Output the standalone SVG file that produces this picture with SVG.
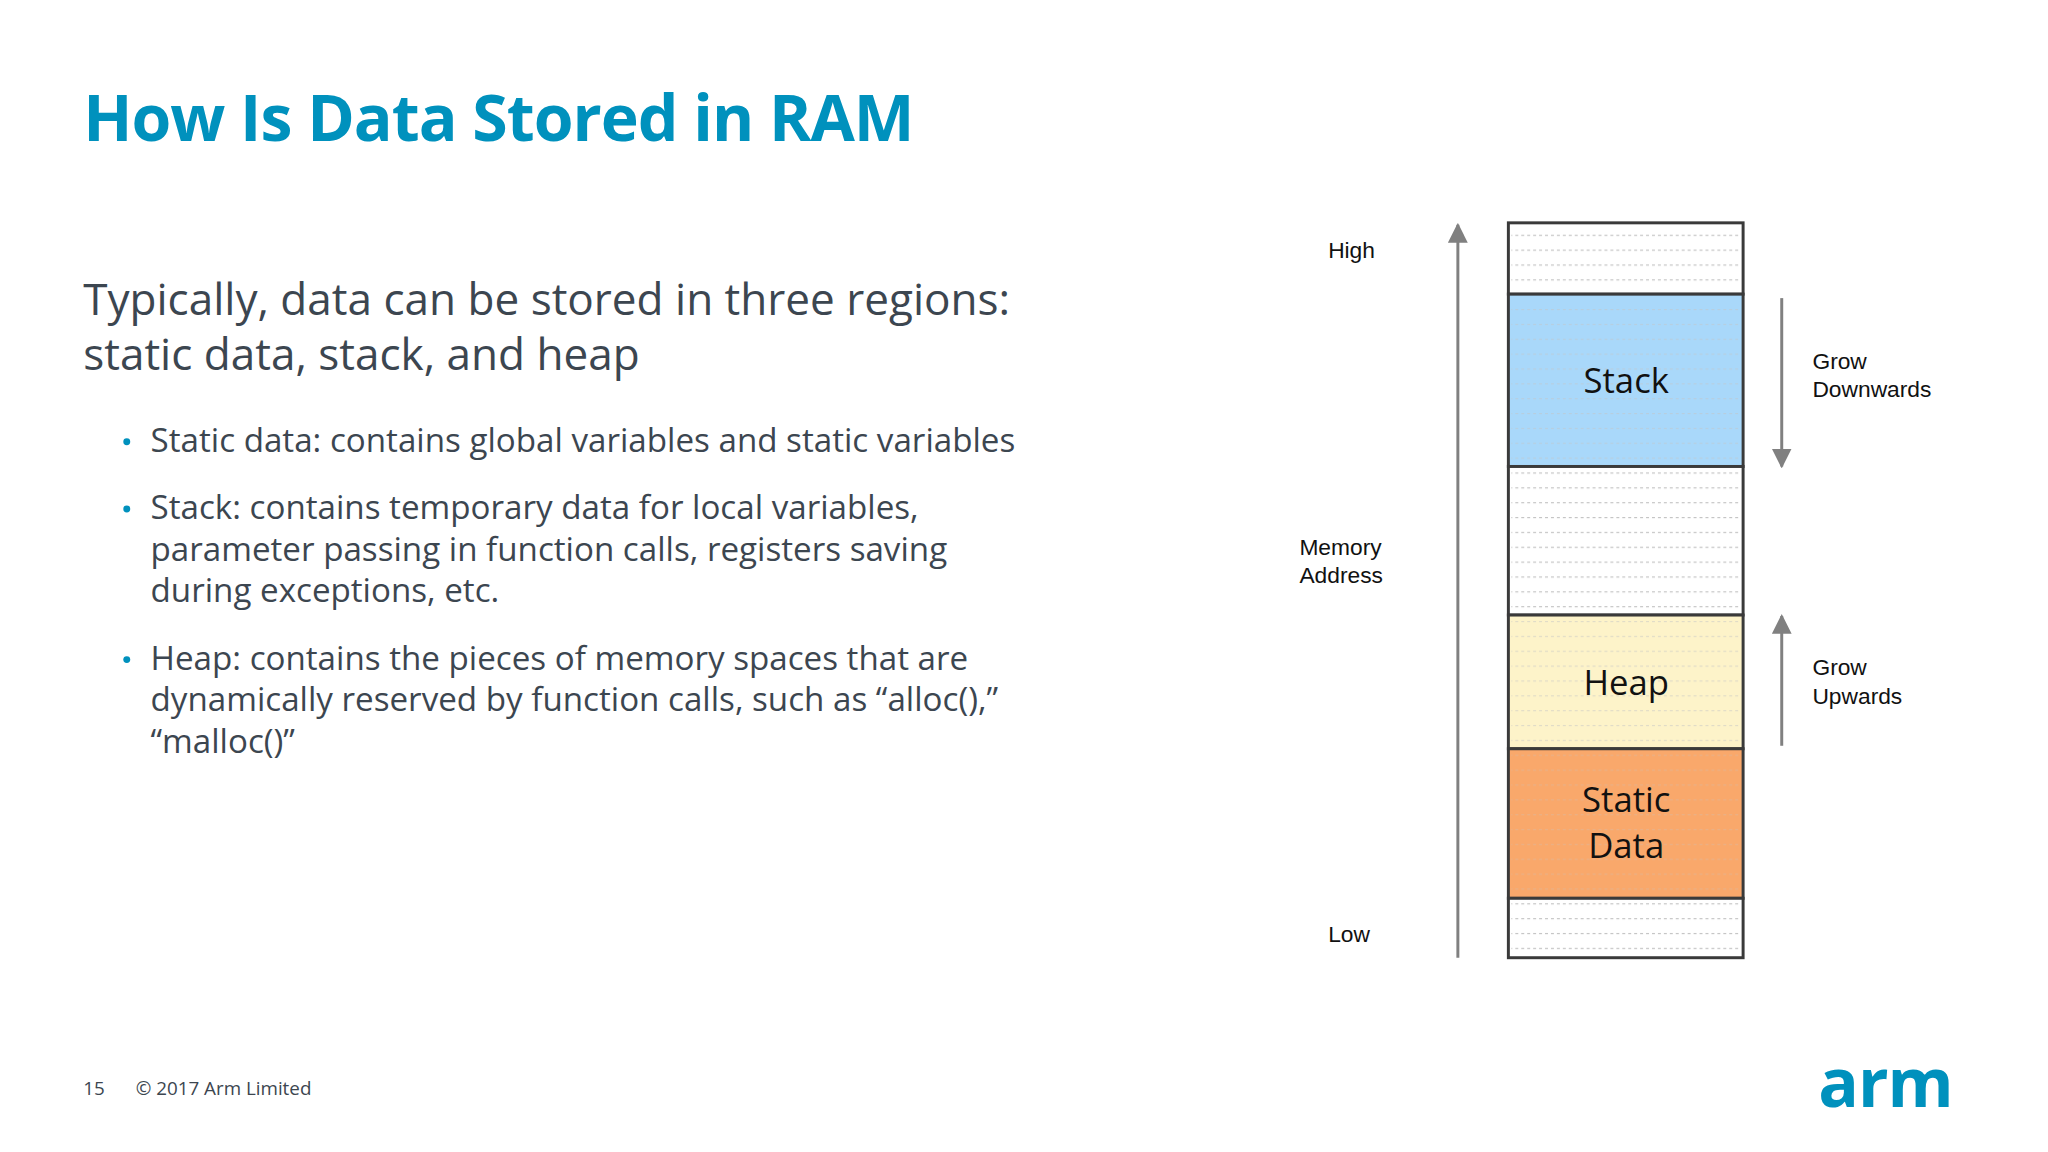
<svg xmlns="http://www.w3.org/2000/svg" width="2048" height="1152" viewBox="0 0 2048 1152">
<defs>
<style>
.t{font-family:"Open Sans","Noto Sans",sans-serif;fill:#3c4650}
.l{font-family:"Liberation Sans",Arial,sans-serif;font-size:23px;fill:#111}
.blk{font-family:"Open Sans","Noto Sans",sans-serif;font-size:35px;fill:#111;text-anchor:middle}
.box{stroke:#3a3a3a;stroke-width:3}
.arr{stroke:#808080;stroke-width:3;fill:none}
</style>
<pattern id="dots" x="0" y="0" width="6" height="15" patternUnits="userSpaceOnUse">
<rect x="0" y="12" width="3" height="1.2" fill="#c4c4c4"/>
</pattern>
<marker id="ah" viewBox="0 0 10 10" refX="9" refY="5" markerWidth="20" markerHeight="20" orient="auto" markerUnits="userSpaceOnUse">
<path d="M0,0L10,5L0,10z" fill="#808080"/>
</marker>
</defs>
<rect width="2048" height="1152" fill="#fff"/>
<g transform="scale(0.9904)">
<text x="84" y="142" font-family="'Open Sans','Noto Sans',sans-serif" font-weight="bold" font-size="65" fill="#0091bd" letter-spacing="-1">How Is Data Stored in RAM</text>
<text class="t" x="84" y="318" font-size="44.5">Typically, data can be stored in three regions:</text>
<text class="t" x="84" y="374" font-size="44.5">static data, stack, and heap</text>
<g class="t" font-size="33.5">
<circle cx="128" cy="446" r="3.5" fill="#0091bd"/>
<text x="152" y="456">Static data: contains global variables and static variables</text>
<circle cx="128" cy="514" r="3.5" fill="#0091bd"/>
<text x="152" y="524">Stack: contains temporary data for local variables,</text>
<text x="152" y="566">parameter passing in function calls, registers saving</text>
<text x="152" y="608">during exceptions, etc.</text>
<circle cx="128" cy="666" r="3.5" fill="#0091bd"/>
<text x="152" y="676">Heap: contains the pieces of memory spaces that are</text>
<text x="152" y="718">dynamically reserved by function calls, such as “alloc(),”</text>
<text x="152" y="760">“malloc()”</text>
</g>
<text class="t" x="84" y="1106" font-size="19" fill="#666">15</text>
<text class="t" x="137" y="1106" font-size="19" fill="#666">© 2017 Arm Limited</text>
<text x="1836" y="1118" font-family="'Open Sans','Noto Sans',sans-serif" font-weight="bold" font-size="68" fill="#0091bd" letter-spacing="-1">arm</text>
<g id="labels">
<text class="l" x="1341" y="260">High</text>
<text class="l" x="1312" y="560">Memory</text>
<text class="l" x="1312" y="589">Address</text>
<text class="l" x="1341" y="951">Low</text>
<text class="l" x="1830" y="373">Grow</text>
<text class="l" x="1830" y="401">Downwards</text>
<text class="l" x="1830" y="682">Grow</text>
<text class="l" x="1830" y="711">Upwards</text>
</g>
<g id="top"><rect class="box" x="1523" y="225" width="237" height="72" fill="#fff"/><rect x="1526" y="228" width="231" height="66" fill="url(#dots)"/></g>
<g id="stack"><rect class="box" x="1523" y="297" width="237" height="174" fill="#a9d8fa"/><rect x="1526" y="300" width="231" height="168" fill="url(#dots)" opacity="0.5"/><text class="blk" x="1642" y="397">Stack</text></g>
<g id="free"><rect class="box" x="1523" y="471" width="237" height="150" fill="#fff"/><rect x="1526" y="474" width="231" height="144" fill="url(#dots)"/></g>
<g id="heap"><rect class="box" x="1523" y="621" width="237" height="135" fill="#fdf3c9"/><rect x="1526" y="624" width="231" height="129" fill="url(#dots)" opacity="0.5"/><text class="blk" x="1642" y="702">Heap</text></g>
<g id="static"><rect class="box" x="1523" y="756" width="237" height="151" fill="#f9a86b"/><rect x="1526" y="759" width="231" height="145" fill="url(#dots)" opacity="0.3"/><text class="blk" x="1642" y="820">Static</text><text class="blk" x="1642" y="866">Data</text></g>
<g id="bottom"><rect class="box" x="1523" y="907" width="237" height="60" fill="#fff"/><rect x="1526" y="910" width="231" height="54" fill="url(#dots)"/></g>
<g id="connectors">
<line class="arr" x1="1472" y1="967" x2="1472" y2="227" marker-end="url(#ah)" stroke-width="3.5"/>
<line class="arr" x1="1799" y1="301" x2="1799" y2="471" marker-end="url(#ah)"/>
<line class="arr" x1="1799" y1="753" x2="1799" y2="622" marker-end="url(#ah)"/>
</g>
</g>
</svg>
